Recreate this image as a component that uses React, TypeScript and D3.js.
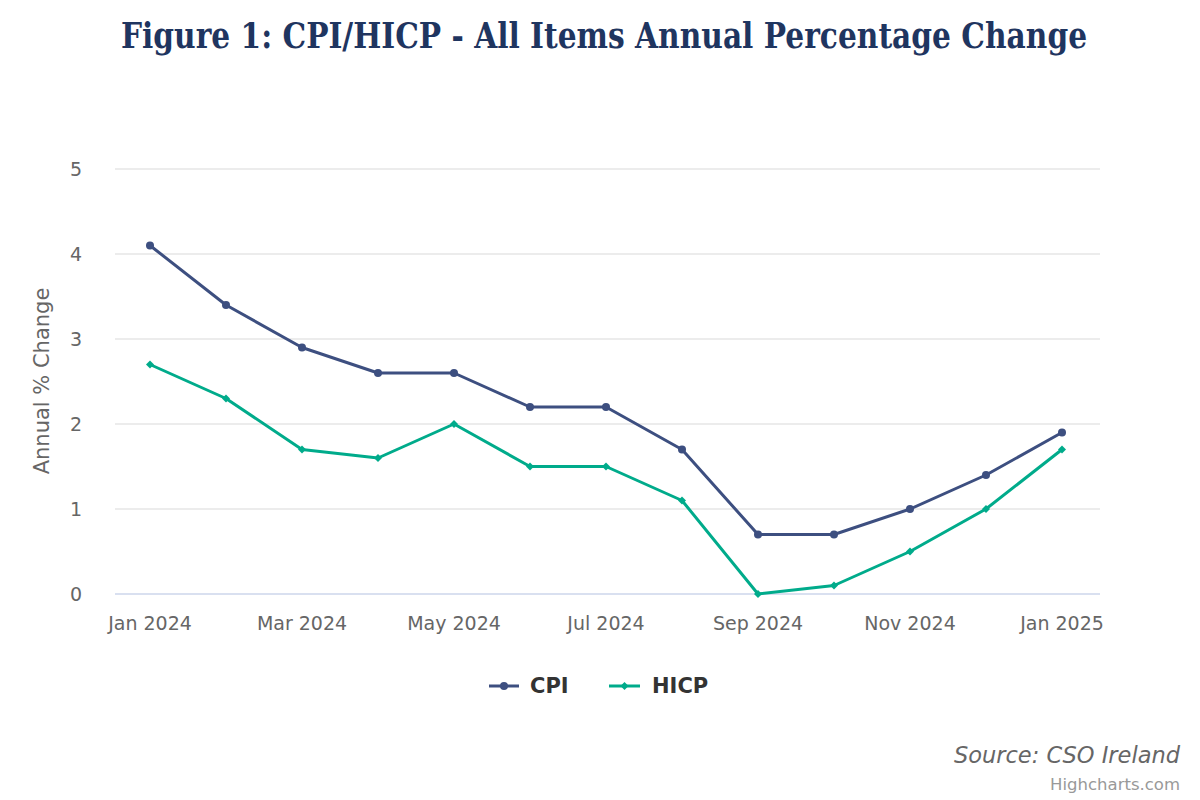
import React, { useLayoutEffect, useRef, useState } from "react";
import * as d3 from "d3";

const months = ["Jan 2024","Feb 2024","Mar 2024","Apr 2024","May 2024","Jun 2024","Jul 2024","Aug 2024","Sep 2024","Oct 2024","Nov 2024","Dec 2024","Jan 2025"];
const cpi = [4.1, 3.4, 2.9, 2.6, 2.6, 2.2, 2.2, 1.7, 0.7, 0.7, 1.0, 1.4, 1.9];
const hicp = [2.7, 2.3, 1.7, 1.6, 2.0, 1.5, 1.5, 1.1, 0.0, 0.1, 0.5, 1.0, 1.7];
const xTickLabels = ["Jan 2024","Mar 2024","May 2024","Jul 2024","Sep 2024","Nov 2024","Jan 2025"];
const yTicks = [0, 1, 2, 3, 4, 5];

const CPI_COLOR = "#3d4f80";
const HICP_COLOR = "#00ab8b";
const FONT = "'DejaVu Sans', sans-serif";

export default function App() {
  const W = 1200, H = 800;
  const titleRef = useRef<SVGTextElement>(null);
  const [titleScale, setTitleScale] = useState(0.78);
  useLayoutEffect(() => {
    if (titleRef.current) {
      const w = titleRef.current.getComputedTextLength();
      if (w > 0) setTitleScale(966 / w);
    }
  }, []);
  const x = d3.scalePoint<string>().domain(months).range([150, 1062]);
  const y = d3.scaleLinear().domain([0, 5]).range([594, 169]);
  const line = d3.line<number>().x((_, i) => x(months[i])!).y(d => y(d));
  const diamond = (cx: number, cy: number, r: number) =>
    `M${cx},${cy - r}L${cx + r},${cy}L${cx},${cy + r}L${cx - r},${cy}Z`;

  return (
    <svg width={W} height={H} style={{ position: "absolute", left: 0, top: 0, background: "#fff" }}>
      <rect x={0} y={0} width={W} height={H} fill="#fff" />
      <g transform={`translate(604,48) scale(${titleScale},1)`}>
        <text ref={titleRef} x={0} y={0} textAnchor="middle" fontFamily="'DejaVu Serif', serif" fontWeight="bold" fontSize={35} fill="#1f3560">
          Figure 1: CPI/HICP - All Items Annual Percentage Change
        </text>
      </g>
      {yTicks.map(t => (
        <g key={t}>
          <line x1={115} x2={1100} y1={y(t)} y2={y(t)} stroke={t === 0 ? "#ccd6eb" : "#e6e6e6"} strokeWidth={1.5} />
          <text x={82} y={y(t) + 7} textAnchor="end" fontFamily={FONT} fontSize={19} fill="#666">{t}</text>
        </g>
      ))}
      <text transform={`translate(49,381) rotate(-90)`} textAnchor="middle" fontFamily={FONT} fontSize={21} fill="#666">Annual % Change</text>
      {xTickLabels.map(l => (
        <text key={l} x={x(l)!} y={630} textAnchor="middle" fontFamily={FONT} fontSize={19} fill="#666">{l}</text>
      ))}
      <path d={line(cpi)!} fill="none" stroke={CPI_COLOR} strokeWidth={3} strokeLinejoin="round" strokeLinecap="round" />
      {cpi.map((v, i) => (
        <circle key={i} cx={x(months[i])!} cy={y(v)} r={4} fill={CPI_COLOR} />
      ))}
      <path d={line(hicp)!} fill="none" stroke={HICP_COLOR} strokeWidth={3} strokeLinejoin="round" strokeLinecap="round" />
      {hicp.map((v, i) => (
        <path key={i} d={diamond(x(months[i])!, y(v), 4)} fill={HICP_COLOR} />
      ))}
      <line x1={489} x2={519} y1={686} y2={686} stroke={CPI_COLOR} strokeWidth={3} />
      <circle cx={504} cy={686} r={4} fill={CPI_COLOR} />
      <text x={530} y={693} fontFamily={FONT} fontWeight="bold" fontSize={21} fill="#333">CPI</text>
      <line x1={609} x2={640} y1={686} y2={686} stroke={HICP_COLOR} strokeWidth={3} />
      <path d={diamond(624.5, 686, 4)} fill={HICP_COLOR} />
      <text x={652} y={693} fontFamily={FONT} fontWeight="bold" fontSize={21} fill="#333">HICP</text>
      <text x={1180} y={763} textAnchor="end" fontFamily={FONT} fontStyle="italic" fontSize={22.5} fill="#666">Source: CSO Ireland</text>
      <text x={1180} y={790} textAnchor="end" fontFamily={FONT} fontSize={16.5} fill="#999">Highcharts.com</text>
    </svg>
  );
}
